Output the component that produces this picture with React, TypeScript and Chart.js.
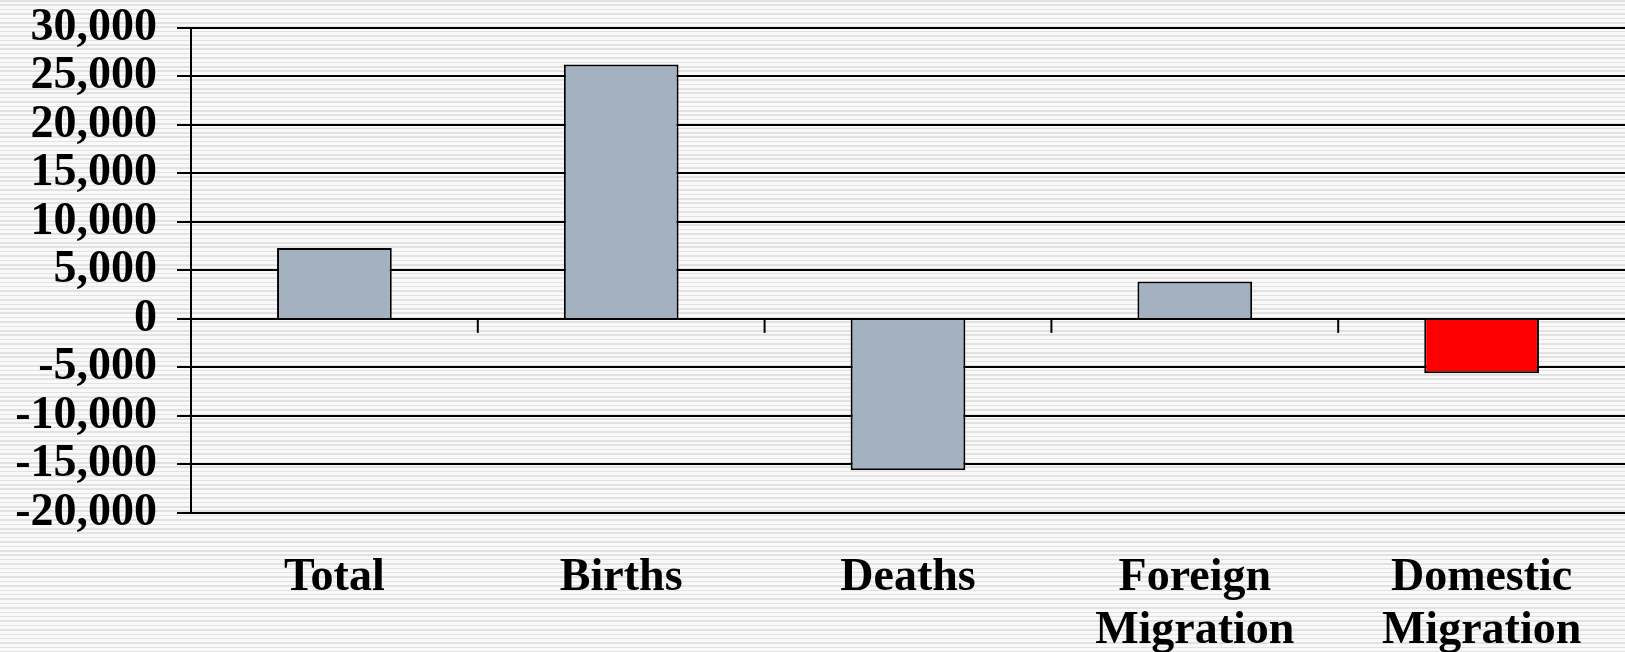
import React, { useEffect, useRef } from "react";
import { Chart, registerables } from "chart.js";

Chart.register(...registerables);

const categories: string[][] = [["Total"], ["Births"], ["Deaths"], ["Foreign", "Migration"], ["Domestic", "Migration"]];
const values: number[] = [7300, 26200, -15600, 3850, -5600];
const barColors: string[] = ["#a3b1c0", "#a3b1c0", "#a3b1c0", "#a3b1c0", "#ff0000"];
const yMin = -20000;
const yMax = 30000;
const yStep = 5000;

const FONT = "'Liberation Serif', 'Times New Roman', serif";
const W = 1625;
const H = 652;

const boundaryTicks = {
  id: "boundaryTicks",
  afterDatasetsDraw(chart: any) {
    const x = chart.scales.x;
    const y = chart.scales.y;
    const ctx = chart.ctx;
    const y0 = y.getPixelForValue(0);
    ctx.save();
    ctx.strokeStyle = "#000";
    ctx.lineWidth = 2;
    for (let i = 0; i < categories.length - 1; i++) {
      const px = (x.getPixelForValue(i) + x.getPixelForValue(i + 1)) / 2;
      ctx.beginPath();
      ctx.moveTo(px, y0);
      ctx.lineTo(px, y0 + 14);
      ctx.stroke();
    }
    ctx.restore();
  },
};

export default function App() {
  const ref = useRef<HTMLCanvasElement>(null);
  useEffect(() => {
    document.body.style.margin = "0";
    const chart = new Chart(ref.current!, {
      type: "bar",
      data: {
        labels: categories,
        datasets: [
          {
            data: values,
            backgroundColor: barColors,
            borderColor: "#000",
            borderWidth: 2,
            categoryPercentage: 1,
            barPercentage: 0.4,
          },
        ],
      },
      options: {
        animation: false,
        responsive: false,
        maintainAspectRatio: false,
        layout: { padding: 0 },
        plugins: { legend: { display: false }, tooltip: { enabled: false } },
        scales: {
          x: {
            afterFit: (s: any) => {
              s.height = H - 513;
              s.paddingLeft = 0;
              s.paddingRight = 0;
            },
            grid: { display: false, drawTicks: false },
            border: { display: false },
            ticks: {
              autoSkip: false,
              maxRotation: 0,
              padding: 39,
              color: "#000",
              font: { family: FONT, size: 46, weight: "bold", lineHeight: 1.15 },
            },
          },
          y: {
            min: yMin,
            max: yMax,
            afterFit: (s: any) => {
              s.width = 191;
              s.paddingTop = 27.7;
              s.paddingBottom = 0;
            },
            ticks: {
              stepSize: yStep,
              autoSkip: false,
              padding: 20,
              color: "#000",
              font: { family: FONT, size: 46, weight: "bold", lineHeight: 1.15 },
              callback: (v: any) => Number(v).toLocaleString("en-US"),
            },
            grid: { color: "#000", lineWidth: 2, tickLength: 14, drawTicks: true },
            border: { display: true, color: "#000", width: 2 },
          },
        },
      },
      plugins: [boundaryTicks],
    });
    return () => chart.destroy();
  }, []);
  return (
    <div
      style={{
        position: "absolute",
        left: 0,
        top: 0,
        width: W,
        height: H,
        overflow: "hidden",
        background:
          "repeating-linear-gradient(to bottom, #e2e2e2 0px, #e2e2e2 1.5px, #f9f9f9 1.5px, #f9f9f9 4.4px)",
      }}
    >
      <canvas ref={ref} width={W} height={H} style={{ width: W, height: H, display: "block" }} />
    </div>
  );
}
